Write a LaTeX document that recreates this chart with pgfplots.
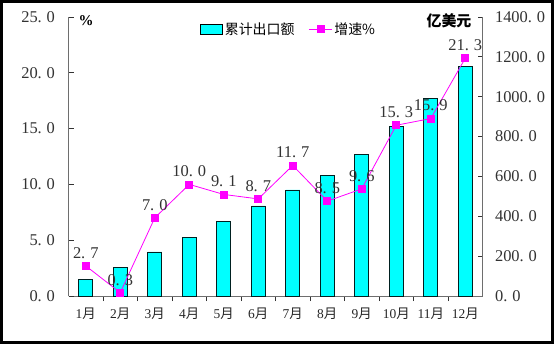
\documentclass[border=0pt]{standalone}
\usepackage{pgfplots}
\pgfplotsset{compat=1.18}
\usepackage{fontspec}
\setmainfont{Liberation Serif}
\newfontfamily\cjk{Noto Sans CJK SC}
\def\fmt#1{\edef\fmttmp{#1}\expandafter\fmtA\fmttmp\relax}
\def\fmtA#1.#2\relax{#1.\kern0.3em#2}
\newcommand\dd{.\kern0.3em}
\newcommand\m{{\cjk 月}}
\definecolor{barcyan}{RGB}{0,255,255}
\definecolor{mag}{RGB}{255,0,255}
\definecolor{axgray}{RGB}{110,110,110}
\pgfplotsset{
  barleg/.style={legend image code/.code={\draw[fill=barcyan, draw=black, line width=0.8bp] (0bp,-5bp) rectangle (22bp,5bp);}},
  lineleg/.style={legend image code/.code={\draw[##1, mark repeat=2, mark phase=2] plot coordinates {(0bp,0bp) (11.5bp,0bp) (23bp,0bp)};}},
}
\begin{document}
\begin{tikzpicture}[x=1bp,y=1bp]
\useasboundingbox (0,0) rectangle (554,344);
\fill[white] (0,0) rectangle (554,344);
\draw[line width=3bp] (1.5,1.5) rectangle (552.5,342.5);

\begin{axis}[
  at={(68.5bp,48bp)}, anchor=south west,
  scale only axis, width=414bp, height=279bp,
  xmin=-0.5, xmax=11.5, ymin=0, ymax=1400,
  axis y line*=right, axis x line*=bottom,
  axis line style={draw=axgray, line width=0.9bp},
  tick align=inside,
  ytick={0,200,...,1400},
  yticklabels={0\dd0,200\dd0,400\dd0,600\dd0,800\dd0,1000\dd0,1200\dd0,1400\dd0},
  yticklabel style={font=\fontsize{16.5}{18}\selectfont, text=black!80, xshift=9bp},
  major tick length=5bp, minor tick length=5bp,
  tick style={draw=black!80, line width=0.8bp},
  xtick={0,...,11},
  xticklabels={1\m,2\m,3\m,4\m,5\m,6\m,7\m,8\m,9\m,10\m,11\m,12\m},
  xticklabel style={font=\fontsize{13.5}{15}\selectfont, text=black!85, yshift=-3bp},
  major x tick style={draw=none},
  minor xtick={0.5,1.5,...,10.5},
  ybar, bar width=14bp,
]
\addplot[fill=barcyan, draw=black!75!teal, line width=0.8bp] coordinates {
 (0,85) (1,145) (2,221) (3,296) (4,376) (5,452)
 (6,532) (7,607) (8,712) (9,853) (10,993) (11,1154)};
\end{axis}

\begin{axis}[
  at={(68.5bp,48bp)}, anchor=south west,
  scale only axis, width=414bp, height=279bp,
  xmin=-0.5, xmax=11.5, ymin=0, ymax=25,
  axis y line*=left, axis x line=none,
  axis line style={draw=axgray, line width=0.9bp},
  tick align=inside,
  ytick={0,5,...,25},
  yticklabels={0\dd0,5\dd0,10\dd0,15\dd0,20\dd0,25\dd0},
  yticklabel style={font=\fontsize{16.5}{18}\selectfont, text=black!80, xshift=-10bp},
  major tick length=5bp,
  tick style={draw=black!80, line width=0.8bp},
  clip=false,
  legend style={at={(0.31,0.995)}, anchor=north west, draw=none, fill=none,
    legend columns=2, font=\fontsize{14}{16}\selectfont\cjk,
    /tikz/every even column/.append style={column sep=12bp}},
]
\addlegendimage{barleg}
\addlegendentry{累计出口额}
\addplot[color=mag, line width=0.8bp, mark=square*, mark size=3.5bp,
  mark options={fill=mag, draw=mag},
  point meta=explicit symbolic,
  nodes near coords={\fmt{\pgfplotspointmeta}},
  every node near coord/.append style={font=\fontsize{16.5}{18}\selectfont, text=black!80, anchor=south, inner sep=1bp, yshift=6bp},
  lineleg
] coordinates {
 (0,2.7)[2.7] (1,0.3)[0.3] (2,7.0)[7.0] (3,10.0)[10.0] (4,9.1)[9.1] (5,8.7)[8.7]
 (6,11.7)[11.7] (7,8.5)[8.5] (8,9.6)[9.6] (9,15.3)[15.3] (10,15.9)[15.9] (11,21.3)[21.3]};
\addlegendentry{增速\%}
\end{axis}

\node[font=\fontsize{15}{16}\selectfont\bfseries] at (86,323) {\%};
\node[font=\fontsize{15}{16}\selectfont\cjk\bfseries] at (449,323) {亿美元};
\end{tikzpicture}
\end{document}
